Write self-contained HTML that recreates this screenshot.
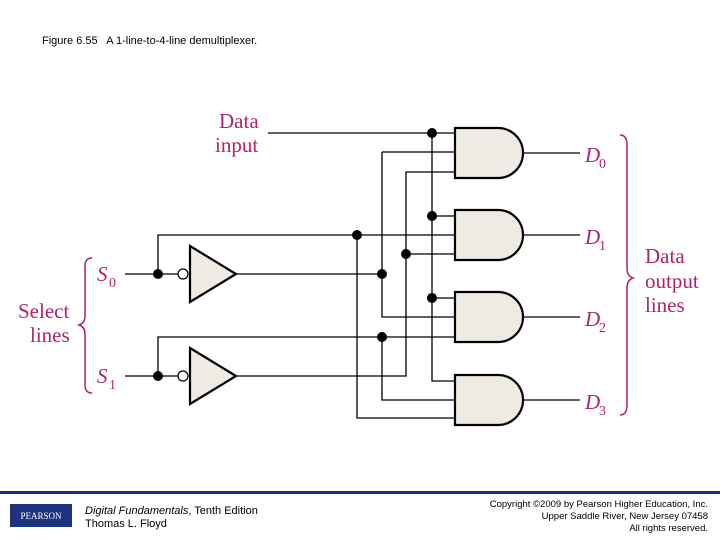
<!DOCTYPE html>
<html><head><meta charset="utf-8"><style>
body{margin:0;width:720px;height:540px;background:#fff;overflow:hidden;position:relative;font-family:"Liberation Sans",sans-serif}
.t{position:absolute;white-space:nowrap}
</style></head><body>
<div class="t" style="left:42px;top:35px;font-size:11px;color:#000">Figure 6.55&nbsp;&nbsp; A 1-line-to-4-line demultiplexer.</div>
<svg width="720" height="540" style="position:absolute;left:0;top:0">
<g stroke="#000" stroke-width="1.3" fill="none">
<path d="M268 133H455M432 133V381H455M432 216H455M432 298H455"/>
<path d="M125 274H178M158 274V235H455M357 235V418H455"/>
<path d="M236 274H382M382 152H455M382 152V317H455"/>
<path d="M125 376H178M158 376V337H455M382 337V400H455"/>
<path d="M236 376H406V172H455M406 254H455"/>
<path d="M523 153H580M523 235H580M523 317H580M523 400H580"/>
</g>
<g stroke="#000" stroke-width="2.2" fill="#efebe4">
<path d="M455 128H498A25 25 0 0 1 498 178H455Z"/>
<path d="M455 210H498A25 25 0 0 1 498 260H455Z"/>
<path d="M455 292H498A25 25 0 0 1 498 342H455Z"/>
<path d="M455 375H498A25 25 0 0 1 498 425H455Z"/>
<path d="M190 246L236 274L190 302Z"/>
<path d="M190 348L236 376L190 404Z"/>
</g>
<g stroke="#000" stroke-width="1.2" fill="#fff"><circle cx="183" cy="274" r="5"/><circle cx="183" cy="376" r="5"/></g>
<g fill="#000">
<circle cx="432" cy="133" r="5"/><circle cx="432" cy="216" r="5"/><circle cx="432" cy="298" r="5"/>
<circle cx="158" cy="274" r="5"/><circle cx="158" cy="376" r="5"/>
<circle cx="357" cy="235" r="5"/><circle cx="382" cy="274" r="5"/><circle cx="406" cy="254" r="5"/><circle cx="382" cy="337" r="5"/>
</g>
<g stroke="#b0226f" stroke-width="1.5" fill="none">
<path d="M620 135Q627 135 627 145V268Q627 276 633 278Q627 280 627 288V405Q627 415 620 415"/>
<path d="M92 258Q85 258 85 266V316Q85 323 79 325Q85 327 85 334V385Q85 393 92 393"/>
</g>
<g fill="#b0226f" font-family="Liberation Serif,serif" font-size="21">
<text x="219" y="128">Data</text><text x="215" y="152">input</text>
<text x="645" y="263">Data</text><text x="645" y="288">output</text><text x="645" y="312">lines</text>
<text x="18" y="318">Select</text><text x="30" y="342">lines</text>
<g font-style="italic"><text x="585" y="162">D</text><text x="585" y="244">D</text><text x="585" y="326">D</text><text x="585" y="409">D</text>
<text x="97" y="281">S</text><text x="97" y="383">S</text></g>
<g font-size="14"><text x="599" y="168">0</text><text x="599" y="250">1</text><text x="599" y="332">2</text><text x="599" y="415">3</text>
<text x="109" y="287">0</text><text x="109" y="389">1</text></g>
</g>
<rect x="0" y="491" width="720" height="3" fill="#1e2a86"/>
<rect x="10" y="504" width="62" height="23" fill="#1e3480"/>
<text x="41" y="519" fill="#fff" font-size="9" text-anchor="middle" font-family="Liberation Serif,serif">PEARSON</text>
</svg>
<div class="t" style="left:85px;top:505px;font-size:11px"><i>Digital Fundamentals</i>, Tenth Edition</div>
<div class="t" style="left:85px;top:518px;font-size:11px">Thomas L. Floyd</div>
<div class="t" style="right:12px;top:499px;font-size:9.5px;text-align:right;line-height:12px">Copyright ©2009 by Pearson Higher Education, Inc.<br>Upper Saddle River, New Jersey 07458<br>All rights reserved.</div>
</body></html>
